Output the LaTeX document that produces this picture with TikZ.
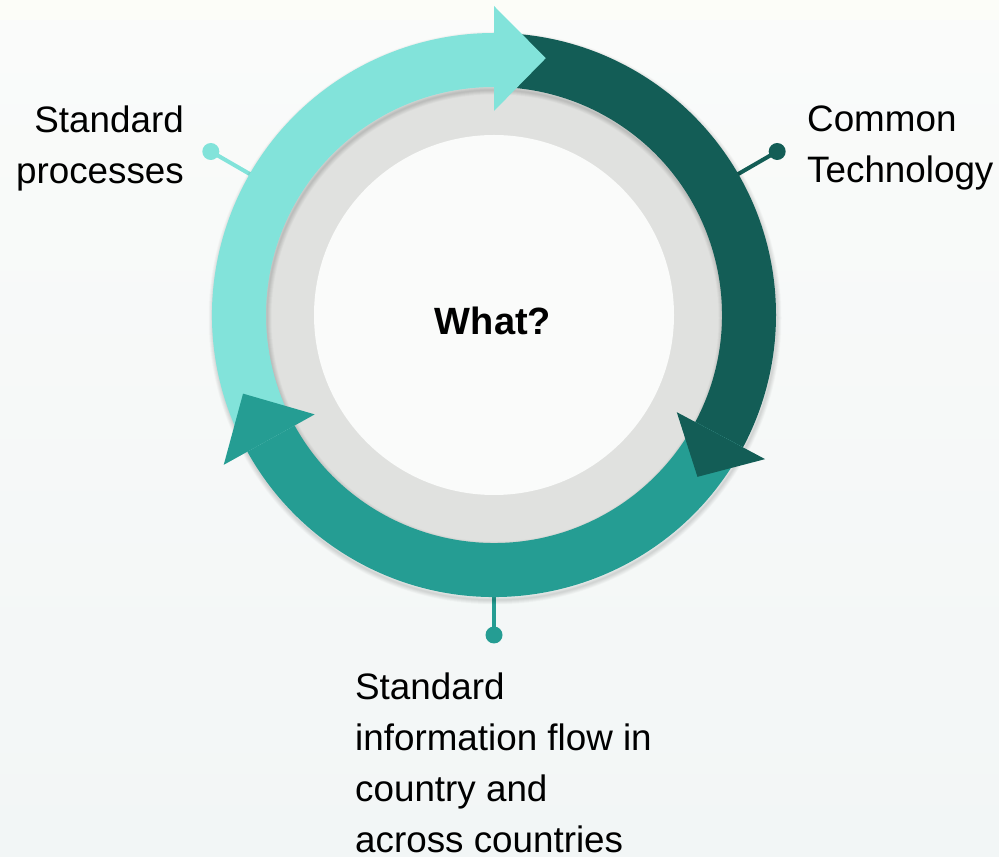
\documentclass[tikz,border=0pt]{standalone}
\usepackage{fontspec}
\setmainfont{Liberation Sans}
\usetikzlibrary{calc}
\definecolor{bgtop}{HTML}{FAFBFA}
\definecolor{bgbot}{HTML}{F2F6F6}
\definecolor{bgstrip}{HTML}{FCFDF8}
\definecolor{lightc}{HTML}{82E3DA}
\definecolor{darkc}{HTML}{135D56}
\definecolor{tealc}{HTML}{259D93}
\definecolor{ringgray}{HTML}{E0E1DF}
\definecolor{innerw}{HTML}{FAFBFA}
\begin{document}
\begin{tikzpicture}[x=1pt,y=1pt,
  lbl/.style={font=\fontsize{36.8}{51}\selectfont, inner sep=0pt, text=black},
  dotnode/.style={circle, fill=#1, inner sep=0pt, minimum size=17pt},
  stemline/.style={draw=#1, line width=4pt},
  shadowring/.style={draw=black, opacity=0.014}]
\useasboundingbox (0,0) rectangle (999,857);
\shade[top color=bgtop, bottom color=bgbot] (0,0) rectangle (999,837);
\fill[bgstrip] (0,837) rectangle (999,857);

\coordinate (C) at (494,542);

% connectors (drawn under the ring)
\node[dotnode=lightc] (d1) at ($(C)+(150:327)$) {};
\node[dotnode=darkc] (d2) at ($(C)+(30:327)$) {};
\node[dotnode=tealc] (d3) at ($(C)+(-90:320)$) {};
\coordinate (r1) at ($(C)+(150:255)$);
\coordinate (r2) at ($(C)+(30:255)$);
\coordinate (r3) at ($(C)+(-90:255)$);
\draw[stemline=lightc] (d1.center) -- (r1);
\draw[stemline=darkc] (d2.center) -- (r2);
\draw[stemline=tealc] (d3.center) -- (r3);

% soft shadow of the coloured ring
\foreach \k in {1,...,9} {
  \draw[shadowring, line width=\k pt] ($(C)+(1,-3)$) circle (282);
}
% grey ring and inner disc
\fill[ringgray] (C) circle (232);
\foreach \k in {1,...,9} {
  \draw[shadowring, line width=\k pt] ($(C)+(1,-3)$) circle (228);
}
\fill[innerw] (C) circle (180);

% arc bodies
\fill[lightc] ($(C)+(209:282)$) arc[start angle=209, end angle=90, radius=282]
  -- ($(C)+(90:228)$) arc[start angle=90, end angle=209, radius=228] -- cycle;
\fill[darkc] ($(C)+(90:282)$) arc[start angle=90, end angle=-28, radius=282]
  -- ($(C)+(-28:228)$) arc[start angle=-28, end angle=90, radius=228] -- cycle;
\fill[tealc] ($(C)+(-28:282)$) arc[start angle=-28, end angle=-151, radius=282]
  -- ($(C)+(-151:228)$) arc[start angle=-151, end angle=-28, radius=228] -- cycle;

% arrowheads
\fill[lightc] ($(C)+(90:309)$) -- ($(C)+(78.6:262)$) -- ($(C)+(90:204)$) -- cycle;
\fill[darkc] ($(C)+(-28:307)$) -- ($(C)+(-38.5:260)$) -- ($(C)+(-28:207)$) -- cycle;
\fill[tealc] ($(C)+(209:309)$) -- ($(C)+(197.4:263)$) -- ($(C)+(209:205)$) -- cycle;

% texts
\node[font=\bfseries\fontsize{38}{40}\selectfont, anchor=base, inner sep=0pt] (what) at (493,522) {What?};
\node[lbl, anchor=north east, align=right] (l1) at (184,751) {Standard\\processes};
\node[lbl, anchor=north west, align=left] (l2) at (807,751) {Common\\Technology};
\node[lbl, anchor=north west, align=left] (l3) at (355,184) {Standard\\information flow in\\country and\\across countries};
\end{tikzpicture}
\end{document}
